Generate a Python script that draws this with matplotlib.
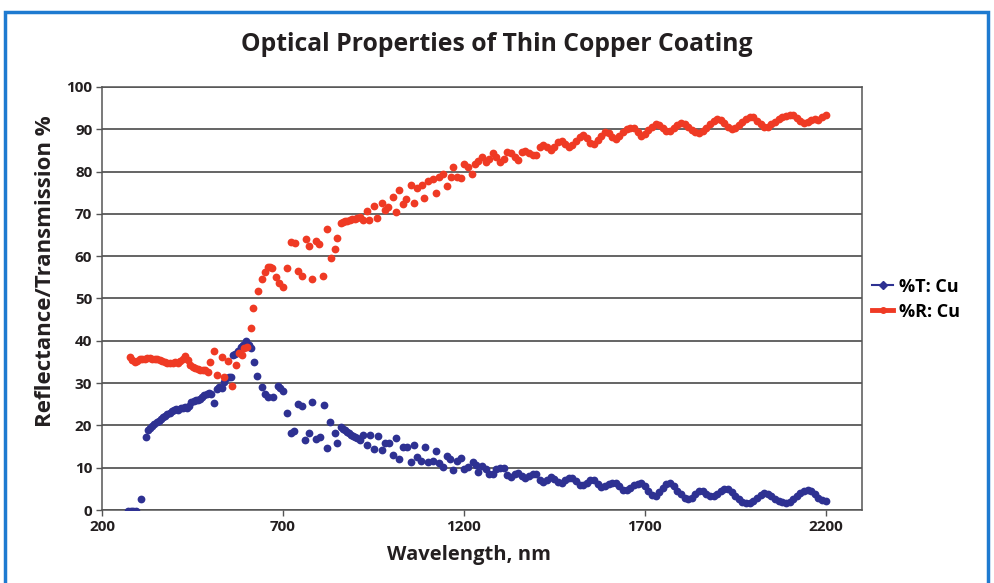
import matplotlib
matplotlib.use('Agg')
import matplotlib.pyplot as plt
from matplotlib.lines import Line2D
from matplotlib.patches import Rectangle

# %T: Cu  (wavelength nm, percent)
t_wl = [272, 279, 286, 293, 308, 321, 327, 333, 339, 345, 351, 357, 363, 369, 375, 381, 387, 393,
        399, 405, 411, 417, 423, 429, 435, 441, 447, 453, 459, 465, 471, 477, 483, 489, 495, 501,
        509, 517, 524, 531, 537, 543, 550, 556, 562, 568, 576, 583, 590, 598, 606, 613, 620, 628,
        642, 650, 659, 672, 686, 692, 700, 711, 722, 730, 741, 752, 761, 772, 780, 791, 802, 813,
        821, 830, 844, 849, 860, 866, 871, 877, 882, 888, 893, 899, 904, 913, 921, 932, 940, 951,
        962, 973, 982, 993, 1004, 1012, 1020, 1031, 1042, 1053, 1062, 1070, 1081, 1092, 1100,
        1114, 1122, 1131, 1142, 1153, 1161, 1169, 1180, 1192, 1200, 1211, 1225, 1233,
        1240, 1250, 1260, 1270, 1280, 1290, 1300, 1310, 1320, 1330, 1340, 1350, 1360, 1370,
        1380, 1390, 1400, 1410, 1420, 1430, 1440, 1450, 1460, 1470, 1480, 1490, 1500, 1510,
        1520, 1530, 1540, 1550, 1560, 1570, 1580, 1590, 1600, 1610, 1620, 1630, 1640, 1650,
        1660, 1670, 1680, 1690, 1700, 1710, 1720, 1730, 1740, 1750, 1760, 1770, 1780, 1790,
        1800, 1810, 1820, 1830, 1840, 1850, 1860, 1870, 1880, 1890, 1900, 1910, 1920, 1930,
        1940, 1950, 1960, 1970, 1980, 1990, 2000, 2010, 2020, 2030, 2040, 2050, 2060, 2070,
        2080, 2090, 2100, 2110, 2120, 2130, 2140, 2150, 2160, 2170, 2180, 2190, 2200]
t_val = [-0.3, -0.3, -0.3, -0.3, 2.7, 17.3, 19.0, 19.4, 19.8, 20.3, 20.7, 21.1, 21.5, 21.9, 22.3,
         22.7, 23.0, 23.3, 23.6, 23.8, 23.7, 24.0, 24.2, 24.4, 24.1, 24.5, 25.6, 25.8, 25.9, 26.0,
         26.3, 26.7, 27.1, 27.5, 27.7, 27.4, 25.3, 28.6, 29.0, 28.8, 30.2, 31.3, 31.5, 31.4, 36.6,
         36.8, 37.5, 38.6, 39.0, 40.0, 39.0, 38.3, 35.0, 31.7, 29.1, 27.4, 26.7, 26.7, 29.3, 28.8,
         28.1, 22.9, 18.2, 18.7, 25.0, 24.6, 16.5, 18.2, 25.5, 16.8, 17.3, 24.8, 14.7, 20.8, 18.2,
         15.8, 19.6, 19.2, 18.9, 18.5, 18.2, 17.8, 17.5, 17.2, 17.0, 16.5, 17.7, 15.4, 17.7, 14.4,
         17.5, 14.2, 15.8, 15.8, 13.0, 17.0, 12.0, 14.9, 14.9, 11.3, 15.4, 12.5, 11.6, 14.9, 11.3,
         11.6, 13.9, 11.1, 10.2, 12.8, 12.0, 9.5, 11.6, 12.3, 9.7, 10.2, 11.3, 10.6,
         9.0, 10.4, 9.8, 8.6, 8.6, 9.6, 10.0, 10.0, 8.2, 7.9, 8.4, 8.7, 8.0, 7.6,
         8.0, 8.6, 8.4, 7.0, 6.7, 7.2, 7.8, 7.4, 6.6, 6.5, 7.0, 7.6, 7.6, 6.8,
         6.0, 6.0, 6.5, 7.0, 7.0, 6.2, 5.4, 5.6, 6.1, 6.5, 6.5, 5.6, 4.8, 4.8,
         5.3, 5.8, 6.2, 6.4, 5.6, 4.4, 3.5, 3.4, 4.2, 5.3, 6.1, 6.3, 5.6, 4.6,
         3.7, 2.9, 2.5, 2.8, 3.8, 4.6, 4.4, 3.8, 3.4, 3.4, 3.9, 4.5, 4.9, 4.9,
         4.2, 3.3, 2.5, 2.0, 1.7, 1.7, 2.1, 2.9, 3.6, 4.0, 3.9, 3.3, 2.6, 2.1,
         1.8, 1.7, 1.9, 2.6, 3.4, 4.1, 4.6, 4.7, 4.4, 3.7, 2.9, 2.4, 2.1]

# %R: Cu
r_wl = [277, 283, 290, 297, 304, 311, 318, 325, 332, 339, 346, 353, 360, 367, 374, 381, 388, 395,
        402, 409, 416, 423, 430, 437, 444, 451, 458, 465, 472, 479, 486, 493, 498, 510, 518, 531,
        537, 548, 559, 570, 578, 587, 593, 600, 612, 617, 631, 642, 650, 659, 665, 670, 681, 689,
        700, 711, 722, 733, 741, 752, 763, 772, 780, 791, 800, 810, 821, 832, 844, 849, 860, 866,
        871, 878, 885, 892, 899, 906, 913, 921, 932, 937, 951, 960, 973, 982, 990, 1004, 1012,
        1020, 1031, 1040, 1053, 1062, 1070, 1084, 1089, 1100, 1114, 1122, 1131, 1142, 1153, 1164,
        1169, 1180, 1192, 1200, 1211, 1222, 1230,
        1240, 1250, 1260, 1270, 1280, 1290, 1300, 1310, 1320, 1330, 1340, 1350, 1360, 1370,
        1380, 1390, 1400, 1410, 1420, 1430, 1440, 1450, 1460, 1470, 1480, 1490, 1500, 1510,
        1520, 1530, 1540, 1550, 1560, 1570, 1580, 1590, 1600, 1610, 1620, 1630, 1640, 1650,
        1660, 1670, 1680, 1690, 1700, 1710, 1720, 1730, 1740, 1750, 1760, 1770, 1780, 1790,
        1800, 1810, 1820, 1830, 1840, 1850, 1860, 1870, 1880, 1890, 1900, 1910, 1920, 1930,
        1940, 1950, 1960, 1970, 1980, 1990, 2000, 2010, 2020, 2030, 2040, 2050, 2060, 2070,
        2080, 2090, 2100, 2110, 2120, 2130, 2140, 2150, 2160, 2170, 2180, 2190, 2200]
r_val = [36.2, 35.5, 35.0, 35.3, 35.6, 35.7, 35.8, 35.9, 35.9, 35.8, 35.8, 35.6, 35.4, 35.2, 35.0,
         34.8, 34.7, 34.8, 35.0, 34.8, 35.2, 35.6, 36.5, 35.4, 34.3, 33.7, 33.6, 33.4, 33.2, 33.0,
         33.0, 32.6, 35.0, 37.7, 31.9, 36.2, 31.4, 35.3, 29.3, 34.3, 37.2, 36.6, 38.3, 38.6, 43.0,
         47.8, 51.8, 54.6, 56.3, 57.4, 57.5, 57.2, 55.1, 53.7, 52.7, 57.2, 63.4, 63.1, 56.5, 55.3,
         64.0, 62.4, 54.6, 63.6, 62.9, 55.3, 66.4, 59.6, 61.7, 64.3, 67.8, 68.1, 68.3, 68.4, 68.6,
         68.7, 68.8, 69.0, 69.3, 68.6, 70.7, 68.6, 71.9, 69.0, 72.6, 70.9, 71.6, 74.0, 70.4, 75.7,
         72.3, 73.5, 76.8, 72.6, 76.1, 76.8, 73.8, 77.8, 78.2, 74.9, 78.7, 79.4, 76.6, 78.7, 81.1,
         78.7, 78.5, 81.8, 81.1, 79.4, 81.8,
         82.6, 83.4, 82.3, 83.0, 84.3, 83.4, 82.2, 83.0, 84.6, 84.5, 83.4, 82.8, 84.6, 84.9,
         84.5, 84.0, 84.0, 85.8, 86.3, 85.8, 85.2, 85.9, 87.1, 87.3, 86.6, 85.9, 86.2, 87.2,
         88.2, 88.6, 87.9, 86.8, 86.6, 87.5, 88.5, 89.3, 89.2, 88.2, 87.6, 88.4, 89.4, 90.0,
         90.4, 90.4, 89.4, 88.5, 88.8, 89.8, 90.6, 91.2, 91.1, 90.4, 89.6, 89.5, 90.3, 91.1,
         91.5, 91.3, 90.6, 89.9, 89.4, 89.2, 89.6, 90.4, 91.3, 92.0, 92.4, 92.2, 91.4, 90.6,
         90.1, 90.3, 91.0, 91.8, 92.5, 92.9, 92.8, 92.0, 91.2, 90.6, 90.6, 91.2, 91.8, 92.4,
         92.8, 93.1, 93.4, 93.3, 92.6, 91.9, 91.5, 91.7, 92.2, 92.4, 92.3, 92.8, 93.4]

x_ticks = [200, 700, 1200, 1700, 2200]
y_ticks = list(range(0, 101, 10))

BLUE = '#2e3192'
RED = '#ef3a24'
FONT = ['Open Sans', 'DejaVu Sans']

plt.rcParams['font.family'] = FONT
plt.rcParams['font.weight'] = 'bold'
fig = plt.figure(figsize=(9.94, 5.83), dpi=100)
ax = fig.add_axes([0.1026, 0.1252, 0.7645, 0.7256])

ax.plot(t_wl, t_val, linestyle='none', marker='o', markersize=5.6, markeredgewidth=0,
        color=BLUE, zorder=3)
ax.plot(r_wl, r_val, linestyle='none', marker='o', markersize=5.6, markeredgewidth=0,
        color=RED, zorder=3)

ax.set_xlim(200, 2300)
ax.set_ylim(0, 100)
ax.set_xticks(x_ticks)
ax.set_yticks(y_ticks)
ax.yaxis.grid(True, color='#3a3a3a', linewidth=1.1)
ax.set_axisbelow(True)
ax.tick_params(axis='both', direction='out', length=4, width=1, color='#555555',
               labelsize=11, pad=3, labelcolor='#231f20')
for s in ax.spines.values():
    s.set_color('#555555')
    s.set_linewidth(1.1)

ax.set_xlabel('Wavelength, nm', fontsize=14.5, fontweight='bold', color='#231f20')
ax.set_ylabel('Reflectance/Transmission %', fontsize=16, fontweight='bold', color='#231f20')
ax.xaxis.set_label_coords(0.483, -0.082)
ax.yaxis.set_label_coords(-0.061, 0.565)
fig.text(0.5, 0.924, 'Optical Properties of Thin Copper Coating', ha='center', va='center',
         fontsize=17.8, fontweight='bold', color='#231f20')

handles = [Line2D([0], [0], color=BLUE, lw=1.5, marker='D', markersize=4),
           Line2D([0], [0], color=RED, lw=3.5, marker='o', markersize=4)]
fig.legend(handles, ['%T: Cu', '%R: Cu'], loc='center left', bbox_to_anchor=(0.877, 0.487),
           frameon=False, prop={'weight': 'bold', 'size': 13}, handlelength=1.2,
           handletextpad=0.3, labelspacing=0.38, borderpad=0, borderaxespad=0)

# blue frame around the chart
fig.patches.append(Rectangle((5 / 994, -0.05), 983 / 994, 1.05 - 12 / 583, transform=fig.transFigure,
                             fill=False, edgecolor='#1e7ad0', linewidth=2.5, clip_on=False))

fig.savefig('out.png', dpi=100)
